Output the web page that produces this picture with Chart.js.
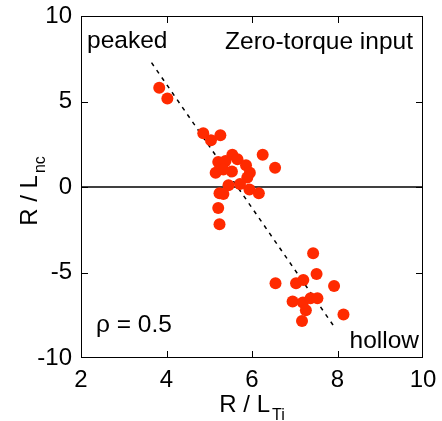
<!DOCTYPE html>
<html>
<head>
<meta charset="utf-8">
<script src="https://cdn.jsdelivr.net/npm/chart.js@4/dist/chart.umd.min.js"></script>
<style>
  html, body { margin: 0; padding: 0; background: #fff; }
  #wrap { width: 442px; height: 421px; }
</style>
</head>
<body>
<div id="wrap"><canvas id="chart" width="442" height="421"></canvas></div>
<script>
// simulation points
const xValues = [3.83, 4.02, 4.86, 5.04, 5.26, 5.54, 6.25, 6.54, 5.21, 5.38, 5.66, 5.86, 5.15, 5.53, 5.95, 5.89, 5.33,
                 5.45, 5.72, 5.94, 6.16, 5.24, 5.33, 5.21, 5.24,
                 7.43, 7.51, 6.55, 7.03, 7.20, 7.92, 6.95, 7.19, 7.37, 7.53, 7.26, 7.17, 8.14];
const yValues = [5.81, 5.17, 3.14, 2.73, 3.02, 1.89, 1.89, 1.13, 1.46, 1.52, 1.62, 1.27, 0.84, 0.90, 0.84, 0.55, 1.03,
                 0.10, 0.18, -0.15, -0.37, -0.37, -0.41, -1.23, -2.18,
                 -3.88, -5.09, -5.63, -5.63, -5.44, -5.79, -6.70, -6.76, -6.51, -6.51, -7.21, -7.84, -7.46];

// dashed fit line
const fitX = [3.65, 7.92];
const fitY = [7.27, -8.16];

// zero line
const zeroX = [2, 10];
const zeroY = [0, 0];

const xTicks = [2, 4, 6, 8, 10];
const yTicks = [-10, -5, 0, 5, 10];

const FONT = "'Liberation Sans', Arial, Helvetica, sans-serif";

function toPoints(xs, ys) {
    return xs.map((x, i) => ({x: x, y: ys[i]}));
}

// draw "R / L" with a subscript, centred on cx
function subLabel(ctx, main, sub, cx, base) {
    ctx.font = '24px ' + FONT;
    const w1 = ctx.measureText(main).width;
    ctx.font = '16px ' + FONT;
    const w2 = ctx.measureText(sub).width;
    const x0 = cx - (w1 + w2 + 2) / 2;
    ctx.font = '24px ' + FONT;
    ctx.fillText(main, x0, base);
    ctx.font = '16px ' + FONT;
    ctx.fillText(sub, x0 + w1 + 2, base + 8);
}

// frame, inward ticks and text labels
const framePlugin = {
    id: 'frame',
    afterDraw(chart) {
        const ctx = chart.ctx;
        const a = chart.chartArea;
        const xs = chart.scales.x;
        const ys = chart.scales.y;
        ctx.save();
        ctx.strokeStyle = '#000';
        ctx.lineWidth = 1;
        ctx.strokeRect(a.left + 0.5, a.top + 0.5, a.right - a.left - 1, a.bottom - a.top - 1);
        ctx.beginPath();
        xTicks.slice(1, -1).forEach(v => {
            const px = Math.round(xs.getPixelForValue(v)) + 0.5;
            ctx.moveTo(px, a.bottom); ctx.lineTo(px, a.bottom - 7);
            ctx.moveTo(px, a.top); ctx.lineTo(px, a.top + 7);
        });
        yTicks.slice(1, -1).forEach(v => {
            const py = Math.round(ys.getPixelForValue(v)) + 0.5;
            ctx.moveTo(a.left, py); ctx.lineTo(a.left + 7, py);
            ctx.moveTo(a.right, py); ctx.lineTo(a.right - 7, py);
        });
        ctx.stroke();

        ctx.fillStyle = '#000';
        ctx.textBaseline = 'alphabetic';
        ctx.font = '24.5px ' + FONT;
        ctx.textAlign = 'left';
        ctx.fillText('peaked', 87, 48);
        ctx.fillText('\u03c1 = 0.5', 96, 332);
        ctx.textAlign = 'right';
        ctx.fillText('Zero-torque input', 413, 49);
        ctx.fillText('hollow', 419, 348);

        ctx.textAlign = 'left';
        subLabel(ctx, 'R / L', 'Ti', (a.left + a.right) / 2, 412);

        ctx.translate(37, 191);
        ctx.rotate(-Math.PI / 2);
        subLabel(ctx, 'R / L', 'nc', 0, 0);
        ctx.restore();
    }
};

new Chart(document.getElementById('chart'), {
    type: 'scatter',
    data: {
        datasets: [
            {
                data: toPoints(zeroX, zeroY),
                showLine: true,
                borderColor: '#000',
                borderWidth: 1.4,
                pointRadius: 0,
                order: 3
            },
            {
                data: toPoints(fitX, fitY),
                showLine: true,
                borderColor: '#000',
                borderWidth: 1.5,
                borderDash: [4, 5],
                pointRadius: 0,
                order: 2
            },
            {
                data: toPoints(xValues, yValues),
                backgroundColor: '#ff2a00',
                borderWidth: 0,
                pointRadius: 6,
                order: 1
            }
        ]
    },
    options: {
        responsive: false,
        animation: false,
        layout: {padding: {left: 0, right: 19, top: 16, bottom: 0}},
        plugins: {legend: {display: false}, tooltip: {enabled: false}},
        scales: {
            x: {
                type: 'linear',
                min: 2, max: 10,
                afterBuildTicks: s => { s.ticks = xTicks.map(v => ({value: v})); },
                afterFit: s => { s.height = 63; s.paddingLeft = 0; s.paddingRight = 0; },
                grid: {display: false, drawTicks: false},
                border: {display: false},
                ticks: {color: '#000', font: {family: FONT, size: 24}, padding: 8, maxRotation: 0}
            },
            y: {
                type: 'linear',
                min: -10, max: 10,
                afterBuildTicks: s => { s.ticks = yTicks.map(v => ({value: v})); },
                afterFit: s => { s.width = 81; s.paddingTop = 0; s.paddingBottom = 0; },
                grid: {display: false, drawTicks: false},
                border: {display: false},
                ticks: {color: '#000', font: {family: FONT, size: 24}, padding: 9}
            }
        }
    },
    plugins: [framePlugin]
});
</script>
</body>
</html>
